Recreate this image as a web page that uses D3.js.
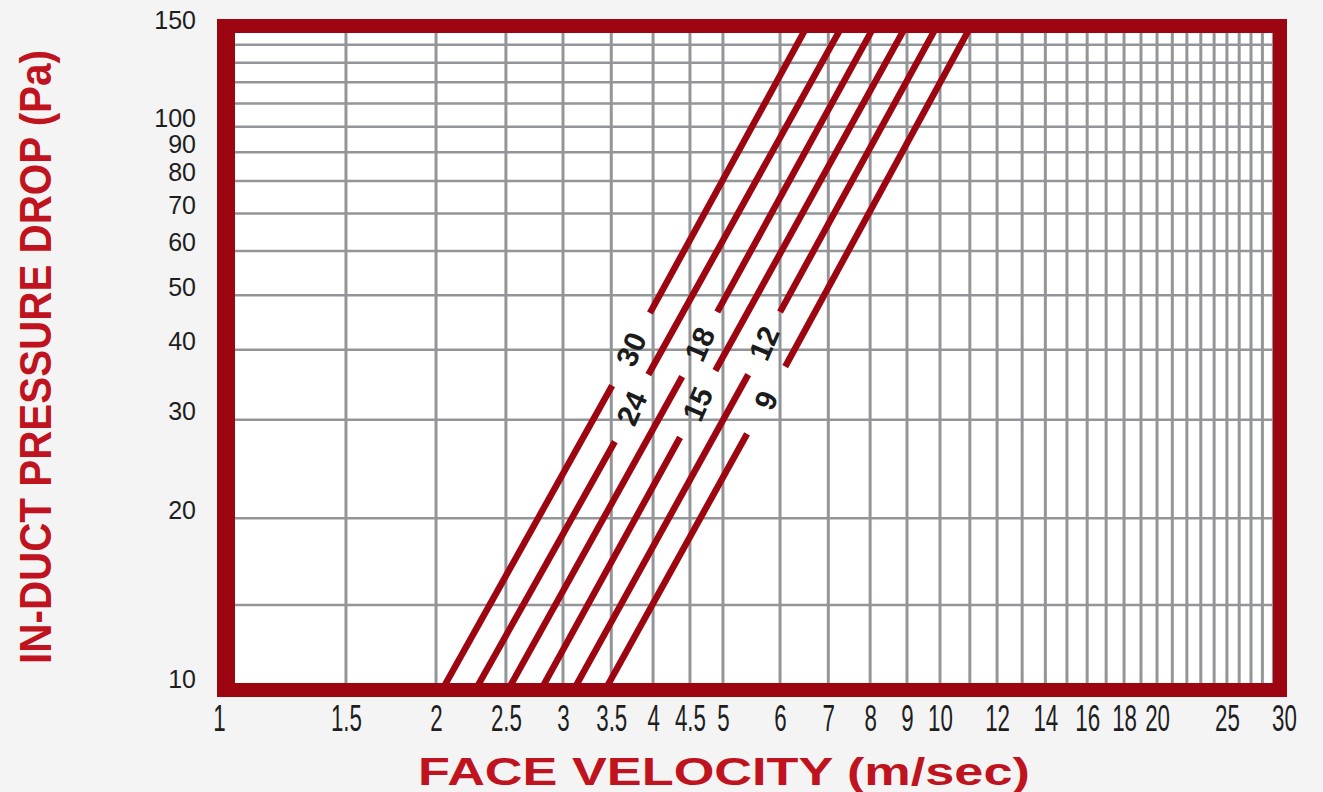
<!DOCTYPE html>
<html>
<head>
<meta charset="utf-8">
<script src="https://cdn.jsdelivr.net/npm/d3@7"></script>
<style>
  body { margin: 0; background: #f4f4f4; }
  svg { display: block; }
</style>
</head>
<body>
<svg id="chart" width="1323" height="792"></svg>
<script>
// axis tick labels
var xTicks = [1, 1.5, 2, 2.5, 3, 3.5, 4, 4.5, 5, 6, 7, 8, 9, 10, 12, 14, 16, 18, 20, 25, 30];
var yTicks = [10, 20, 30, 40, 50, 60, 70, 80, 90, 100, 150];

// grid lines as drawn on the sheet
var xGrid = [1.5, 2, 2.5, 3, 3.5, 4, 4.5, 5, 6, 7, 8, 9, 10, 11, 12, 13, 14, 15, 16,
             17, 18, 19, 20, 21, 22, 23, 24, 25, 26, 27, 28, 29];
var yGrid = [14, 20, 30, 40, 50, 60, 70, 80, 90, 100, 110, 120, 130, 140];

// one line per filter depth, split where its label sits
var depthLabels = ["30", "24", "18", "15", "12", "9"];
// lower run: 10 Pa up to the label gap
var lowStartV = [2.05, 2.28, 2.53, 2.81, 3.12, 3.45];
var lowEndV   = [3.51, 3.54, 4.39, 4.36, 5.42, 5.40];
var lowEndP   = [34.5, 27.4, 35.8, 27.9, 36.1, 28.3];
// upper run: above the label gap up to 150 Pa
var highStartV = [3.96, 3.94, 4.91, 4.88, 6.0, 6.1];
var highStartP = [46.5, 36.1, 46.7, 36.7, 46.7, 37.3];
var highEndV   = [6.52, 7.29, 8.08, 8.94, 9.87, 11.0];

var red = "#9d0610";
var titleRed = "#bf1420";
var gridGrey = "#939598";

var svg = d3.select("#chart");

var x = d3.scaleLog().domain([1, 30]).range([219, 1284]);
var y = d3.scaleLog().domain([10, 150]).range([687, 28]);

// inner plot box (inside the thick frame)
var inner = {x0: 235, y0: 33, x1: 1273, y1: 683};

svg.append("defs").append("clipPath").attr("id", "plotclip")
  .append("rect")
  .attr("x", inner.x0).attr("y", inner.y0)
  .attr("width", inner.x1 - inner.x0).attr("height", inner.y1 - inner.y0);

svg.append("rect")
  .attr("x", inner.x0).attr("y", inner.y0)
  .attr("width", inner.x1 - inner.x0).attr("height", inner.y1 - inner.y0)
  .attr("fill", "#ffffff");

var plot = svg.append("g").attr("clip-path", "url(#plotclip)");

plot.selectAll(".vgrid").data(xGrid).enter().append("line")
  .attr("class", "vgrid")
  .attr("x1", d => x(d)).attr("x2", d => x(d))
  .attr("y1", inner.y0).attr("y2", inner.y1)
  .attr("stroke", gridGrey).attr("stroke-width", 3);

plot.selectAll(".hgrid").data(yGrid).enter().append("line")
  .attr("class", "hgrid")
  .attr("x1", inner.x0).attr("x2", inner.x1)
  .attr("y1", d => y(d)).attr("y2", d => y(d))
  .attr("stroke", gridGrey).attr("stroke-width", 2.5);

// build the segments from the arrays
var segments = [];
depthLabels.forEach(function(lbl, i) {
  segments.push([[lowStartV[i], 10], [lowEndV[i], lowEndP[i]]]);
  segments.push([[highStartV[i], highStartP[i]], [highEndV[i], 150]]);
});

var line = d3.line().x(d => x(d[0])).y(d => y(d[1]));

plot.selectAll(".curve").data(segments).enter().append("path")
  .attr("class", "curve")
  .attr("d", line)
  .attr("fill", "none")
  .attr("stroke", red)
  .attr("stroke-width", 6.5);

// depth labels in the gaps, turned along the line
svg.selectAll(".depth").data(depthLabels).enter().append("text")
  .attr("class", "depth")
  .attr("transform", function(d, i) {
    var ax = x(lowEndV[i]), ay = y(lowEndP[i]);
    var bx = x(highStartV[i]), by = y(highStartP[i]);
    var ang = Math.atan2(y(150) - y(10), x(highEndV[i]) - x(lowStartV[i])) * 180 / Math.PI;
    return "translate(" + ((ax + bx) / 2) + "," + ((ay + by) / 2) + ") rotate(" + (ang - 5) + ")";
  })
  .attr("text-anchor", "middle")
  .attr("dominant-baseline", "central")
  .attr("font-family", "'Liberation Sans', Arial, sans-serif")
  .attr("font-weight", "bold")
  .attr("font-size", 30)
  .attr("fill", "#1b1b1b")
  .text(d => d);

// thick frame: left side a bit heavier than the rest
svg.append("path")
  .attr("d", "M217,19H1287V697H217Z M" + inner.x0 + "," + inner.y0 + "V" + inner.y1 +
             "H" + inner.x1 + "V" + inner.y0 + "Z")
  .attr("fill", red)
  .attr("fill-rule", "evenodd");

// x axis labels
var xAxisG = svg.append("g")
  .attr("transform", "translate(0,731)")
  .call(d3.axisBottom(x).tickValues(xTicks).tickSize(0).tickFormat(d => String(d)));
xAxisG.select(".domain").remove();
xAxisG.selectAll("text")
  .attr("y", 0).attr("dy", null)
  .attr("transform", "scale(0.62,1)")
  .attr("font-family", "'Liberation Sans', Arial, sans-serif")
  .attr("font-size", 36)
  .attr("fill", "#1e1e1e");

// y axis labels
var yAxisG = svg.append("g")
  .attr("transform", "translate(196,0)")
  .call(d3.axisLeft(y).tickValues(yTicks).tickSize(0).tickFormat(d => String(d)));
yAxisG.select(".domain").remove();
yAxisG.selectAll("text")
  .attr("x", 0).attr("dy", null)
  .attr("text-anchor", "end")
  .attr("font-family", "'Liberation Sans', Arial, sans-serif")
  .attr("font-size", 25)
  .attr("fill", "#1e1e1e");

// axis titles, squeezed to the width they take on the sheet
function title(txt, size, cx, cy, rot, len) {
  var t = svg.append("text")
    .attr("text-anchor", "middle")
    .attr("font-family", "'Liberation Sans', Arial, sans-serif")
    .attr("font-weight", "bold")
    .attr("font-size", size)
    .attr("fill", titleRed)
    .text(txt);
  var natural = t.node().getComputedTextLength();
  t.attr("transform", "translate(" + cx + "," + cy + ") rotate(" + rot + ") scale(" + (len / natural) + ",1)");
}

title("FACE VELOCITY (m/sec)", 38, 724, 785, 0, 612);
title("IN-DUCT PRESSURE DROP (Pa)", 44, 51, 357, -90, 614);
</script>
</body>
</html>
